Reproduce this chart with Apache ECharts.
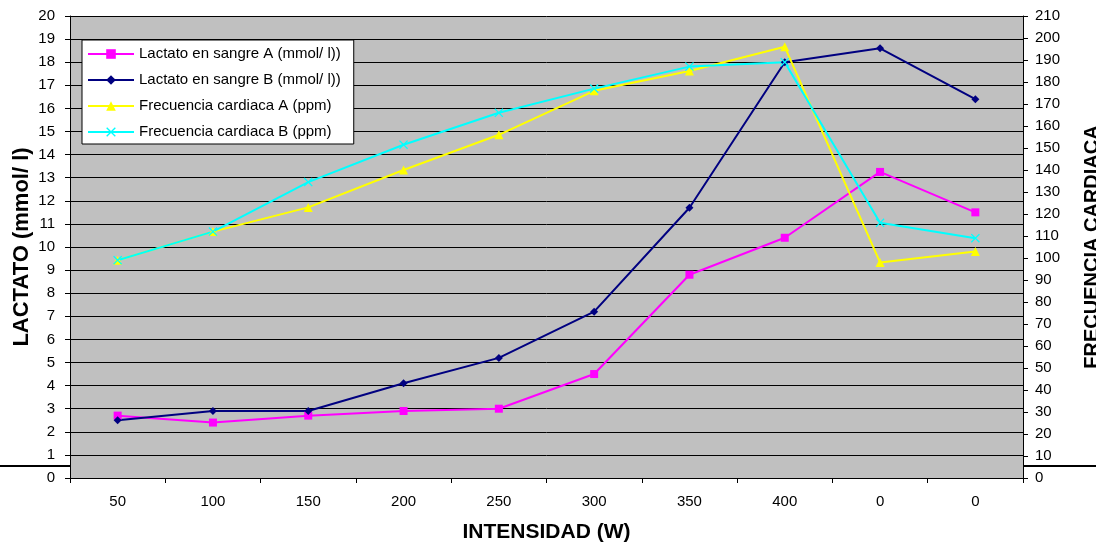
<!DOCTYPE html>
<html>
<head>
<meta charset="utf-8">
<script src="https://cdn.jsdelivr.net/npm/echarts@6/dist/echarts.min.js"></script>
<style>
html,body{margin:0;padding:0;background:#fff;overflow:hidden;width:100%;height:100%;}
#c{width:100vw;height:100vh;}
</style>
</head>
<body>
<div id="c"></div>
<script>
const categories = ['50','100','150','200','250','300','350','400','0','0'];
const lactatoA = [2.7, 2.4, 2.7, 2.9, 3.0, 4.5, 8.8, 10.4, 13.25, 11.5];
const lactatoB = [2.5, 2.9, 2.9, 4.1, 5.2, 7.2, 11.7, 18.0, 18.6, 16.4];
const frecuenciaA = [99, 112, 123, 140, 156, 176, 185, 196, 98, 103];
const frecuenciaB = [99, 112, 134.5, 151.5, 166, 177, 187, 189, 116, 109];
const seriesNames = ['Lactato en sangre A (mmol/ l))','Lactato en sangre B (mmol/ l))','Frecuencia cardiaca A (ppm)','Frecuencia cardiaca B (ppm)'];

const FONT = '"Liberation Sans", Arial, sans-serif';
const xSymbol = 'path://M0,1L1,0L5,4L9,0L10,1L6,5L10,9L9,10L5,6L1,10L0,9L4,5Z';

const chart = echarts.init(document.getElementById('c'), null, {renderer:'canvas'});
chart.setOption({
  animation:false,
  backgroundColor:'#ffffff',
  textStyle:{fontFamily:FONT},
  grid:{left:70, right:73, top:16, bottom:64, show:true, backgroundColor:'#c0c0c0', borderWidth:0,
        containLabel:false, outerBoundsMode:'none'},
  legend:{
    orient:'vertical', left:82, top:40,
    padding:[6,13,4,5],
    backgroundColor:'#ffffff', borderColor:'#000', borderWidth:1, borderRadius:0,
    itemWidth:46, itemHeight:12, itemGap:10,
    textStyle:{fontSize:15, color:'#000', fontFamily:FONT, lineHeight:16},
    data:seriesNames
  },
  xAxis:{
    type:'category', data:categories, boundaryGap:true,
    name:'INTENSIDAD (W)', nameLocation:'middle', nameGap:44,
    nameTextStyle:{fontSize:21, fontWeight:'bold', color:'#000', fontFamily:FONT},
    axisLine:{lineStyle:{color:'#000', width:1}},
    axisTick:{show:true, length:5, lineStyle:{color:'#000'}},
    axisLabel:{fontSize:15, color:'#000', margin:16, fontFamily:FONT, interval:0},
    splitLine:{show:false}
  },
  yAxis:[{
    type:'value', min:0, max:20, interval:1, position:'left',
    name:'LACTATO (mmol/ l)', nameLocation:'middle', nameRotate:90, nameGap:37, nameMoveOverlap:false,
    nameTextStyle:{fontSize:22, fontWeight:'bold', color:'#000', fontFamily:FONT},
    axisLine:{show:true, lineStyle:{color:'#000', width:1}},
    axisTick:{show:true, length:5, lineStyle:{color:'#000'}},
    axisLabel:{fontSize:15, color:'#000', margin:15, fontFamily:FONT},
    splitLine:{show:true, lineStyle:{color:'#000', width:1}}
  },{
    type:'value', min:0, max:210, interval:10, position:'right',
    name:'FRECUENCIA CARDIACA', nameLocation:'middle', nameRotate:90, nameGap:59,
    nameTextStyle:{fontSize:20, fontWeight:'bold', color:'#000', fontFamily:FONT},
    axisLine:{show:true, lineStyle:{color:'#000', width:1}},
    axisTick:{show:true, length:5, lineStyle:{color:'#000'}},
    axisLabel:{fontSize:15, color:'#000', margin:12, fontFamily:FONT},
    splitLine:{show:false}
  }],
  series:[
    {name:seriesNames[0], type:'line', yAxisIndex:0, data:lactatoA, symbol:'rect', symbolSize:8,
     itemStyle:{color:'#ff00ff'}, lineStyle:{color:'#ff00ff', width:2}},
    {name:seriesNames[1], type:'line', yAxisIndex:0, data:lactatoB, symbol:'diamond', symbolSize:8,
     itemStyle:{color:'#000080'}, lineStyle:{color:'#000080', width:2}},
    {name:seriesNames[2], type:'line', yAxisIndex:1, data:frecuenciaA, symbol:'triangle', symbolSize:9,
     itemStyle:{color:'#ffff00'}, lineStyle:{color:'#ffff00', width:2}},
    {name:seriesNames[3], type:'line', yAxisIndex:1, data:frecuenciaB, symbol:xSymbol, symbolSize:9,
     itemStyle:{color:'#00ffff'}, lineStyle:{color:'#00ffff', width:2}}
  ],
  graphic:[
    {type:'line', shape:{x1:0, y1:466, x2:70, y2:466}, style:{stroke:'#000', lineWidth:2}, silent:true},
    {type:'line', shape:{x1:1023, y1:466, x2:1096, y2:466}, style:{stroke:'#000', lineWidth:2}, silent:true}
  ]
});
window.addEventListener('resize', () => chart.resize());
</script>
</body>
</html>
